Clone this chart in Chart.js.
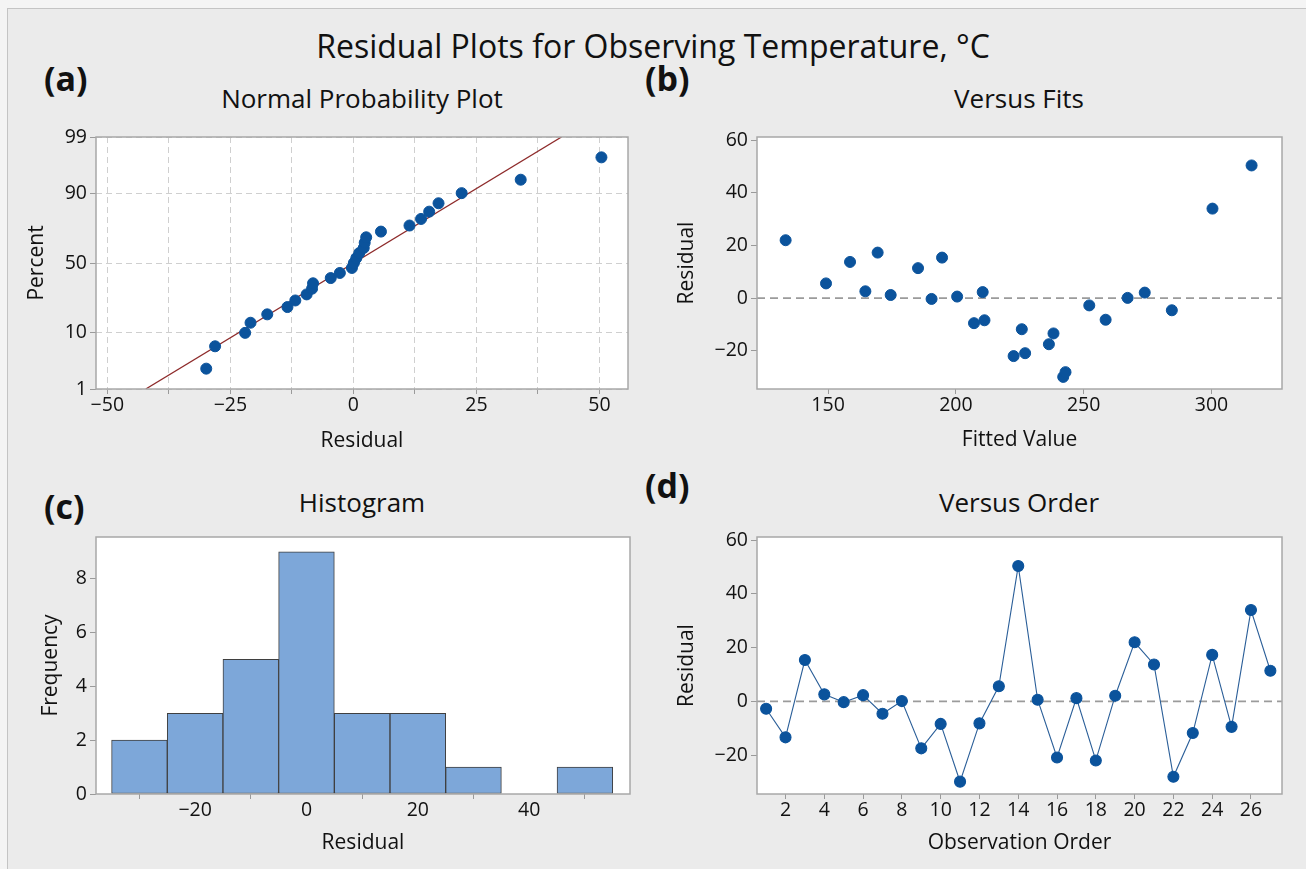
<!DOCTYPE html>
<html>
<head>
<meta charset="utf-8">
<title>Residual Plots for Observing Temperature, °C</title>
<script src="https://cdn.jsdelivr.net/npm/chart.js@4.4.1/dist/chart.umd.min.js"></script>
<style>
  body { margin: 0; background: #f4f4f4; width: 1306px; height: 869px; overflow: hidden;
         font-family: "Open Sans", sans-serif; color: #111111; position: relative; }
  .frame { position: absolute; left: 7px; top: 8px; width: 1320px; height: 880px;
           background: #ebebeb; border: 1px solid #c4c4c4; }
  .t { position: absolute; transform: translate(-50%, -50%); white-space: nowrap; }
  .lbl { position: absolute; transform: translateY(-50%); font-weight: bold; font-size: 34px; }
  canvas { position: absolute; }
</style>
</head>
<body>
<div class="frame"></div>
<div class="t" style="left:653px; top:45px; font-size:32px;">Residual Plots for Observing Temperature, °C</div>
<div class="lbl" style="left:44px; top:78px;">(a)</div>
<div class="lbl" style="left:645px; top:78px;">(b)</div>
<div class="lbl" style="left:44px; top:506px;">(c)</div>
<div class="lbl" style="left:645px; top:485px;">(d)</div>
<div class="t" style="left:362px; top:98px; font-size:26px;">Normal Probability Plot</div>
<div class="t" style="left:1019px; top:98px; font-size:26px;">Versus Fits</div>
<div class="t" style="left:362px; top:502px; font-size:26px;">Histogram</div>
<div class="t" style="left:1019px; top:502px; font-size:26px;">Versus Order</div>

<canvas id="npp" style="left:0; top:80px;" width="640" height="380"></canvas>
<canvas id="fits" style="left:640px; top:80px;" width="666" height="380"></canvas>
<canvas id="hist" style="left:0; top:460px;" width="640" height="409"></canvas>
<canvas id="order" style="left:640px; top:460px;" width="666" height="409"></canvas>

<script>
// residuals in observation order, and the fitted value of each observation
const residuals = [-2.75, -13.4, 15.4, 2.6, -0.3, 2.3, -4.6, 0.1, -17.5, -8.4, -29.9, -8.2, 5.6, 50.4,
  0.6, -20.9, 1.2, -22.0, 2.1, 22.0, 13.75, -28.1, -11.8, 17.3, -9.5, 34.0, 11.4];
const fitted = [252.2, 238.2, 194.6, 164.6, 190.5, 210.5, 284.5, 267.2, 236.4, 211.2, 242.0, 258.6, 149.2, 315.7,
  200.5, 227.1, 174.5, 222.6, 273.9, 133.4, 158.6, 242.9, 225.8, 169.4, 207.1, 300.4, 185.2];

// histogram bins (midpoints) and frequencies
const binMids = [-30, -20, -10, 0, 10, 20, 30, 40, 50];
const histCounts = [2, 3, 5, 9, 3, 3, 1, 0, 1];

// tick labels
const pctTicks = [1, 10, 50, 90, 99];
const residTicks = [-50, -25, 0, 25, 50];
const fitTicks = [150, 200, 250, 300];
const histTicks = [-20, 0, 20, 40];
const freqTicks = [0, 2, 4, 6, 8];
const residYTicks = [-20, 0, 20, 40, 60];
const orderTicks = [2, 4, 6, 8, 10, 12, 14, 16, 18, 20, 22, 24, 26];

const dotBlue = "#0b539c";
const textCol = "#111111";
const tickFont = { family: '"Open Sans", sans-serif', size: 19.5 };
const axisFont = { family: '"Open Sans", sans-serif', size: 21 };

Chart.defaults.font.family = '"Open Sans", sans-serif';
Chart.defaults.color = textCol;

// inverse of the standard normal cdf (Acklam)
function normInv(p) {
  const a = [-3.969683028665376e+01, 2.209460984245205e+02, -2.759285104469687e+02, 1.383577518672690e+02, -3.066479806614716e+01, 2.506628277459239e+00];
  const b = [-5.447609879822406e+01, 1.615858368580409e+02, -1.556989798598866e+02, 6.680131188771972e+01, -1.328068155288572e+01];
  const c = [-7.784894002430293e-03, -3.223964580411365e-01, -2.400758277161838e+00, -2.549732539343734e+00, 4.374664141464968e+00, 2.938163982698783e+00];
  const d = [7.784695709041462e-03, 3.224671290700398e-01, 2.445134137142996e+00, 3.754408661907416e+00];
  let q, r;
  if (p < 0.02425) {
    q = Math.sqrt(-2 * Math.log(p));
    return (((((c[0]*q+c[1])*q+c[2])*q+c[3])*q+c[4])*q+c[5]) / ((((d[0]*q+d[1])*q+d[2])*q+d[3])*q+1);
  }
  if (p > 1 - 0.02425) {
    q = Math.sqrt(-2 * Math.log(1 - p));
    return -(((((c[0]*q+c[1])*q+c[2])*q+c[3])*q+c[4])*q+c[5]) / ((((d[0]*q+d[1])*q+d[2])*q+d[3])*q+1);
  }
  q = p - 0.5; r = q * q;
  return (((((a[0]*r+a[1])*r+a[2])*r+a[3])*r+a[4])*r+a[5])*q / (((((b[0]*r+b[1])*r+b[2])*r+b[3])*r+b[4])*r+1);
}

const minus = v => String(v).replace("-", "\u2212");

// probability plot: sorted residuals against median ranks
const sorted = residuals.slice().sort((p, q) => p - q);
const n = sorted.length;
const nppPoints = sorted.map((r, i) => ({ x: r, y: normInv((i + 1 - 0.3) / (n + 0.4)) }));
const mean = residuals.reduce((s, v) => s + v, 0) / n;
const sd = Math.sqrt(residuals.reduce((s, v) => s + (v - mean) ** 2, 0) / (n - 1));
const zLo = normInv(pctTicks[0] / 100), zHi = normInv(pctTicks[pctTicks.length - 1] / 100);
const fitLine = [{ x: mean + sd * zLo, y: zLo }, { x: mean + sd * zHi, y: zHi }];

// fixed axis box sizes so every plot area lands where it should
function fixBox(size) {
  return s => {
    if (s.isHorizontal()) s.height = size; else s.width = size;
    s.paddingLeft = s.paddingRight = s.paddingTop = s.paddingBottom = 0;
  };
}
function setTicks(list) {
  return s => { s.ticks = list.map(v => ({ value: v })); };
}

// white plot area with grey frame
const plotFrame = {
  id: "plotFrame",
  beforeDraw(chart) {
    const { ctx, chartArea: a } = chart;
    ctx.save();
    ctx.fillStyle = "#ffffff";
    ctx.fillRect(a.left, a.top, a.width, a.height);
    ctx.restore();
  },
  afterDraw(chart) {
    const { ctx, chartArea: a } = chart;
    ctx.save();
    ctx.strokeStyle = "#a8a8a8";
    ctx.lineWidth = 1.5;
    ctx.strokeRect(a.left, a.top, a.width, a.height);
    ctx.restore();
  }
};

const base = {
  responsive: false,
  animation: false,
  devicePixelRatio: 1,
  plugins: { legend: { display: false }, tooltip: { enabled: false } }
};

function xAxis(opts) {
  return Object.assign({
    type: "linear",
    afterFit: fixBox(opts.h),
    ticks: { font: tickFont, color: textCol, padding: 0, maxRotation: 0, autoSkip: false, callback: v => minus(v) },
    grid: { drawOnChartArea: false, tickLength: 5, tickColor: "#9a9a9a", tickBorderDash: [] },
    border: { display: false },
    title: { display: true, text: opts.title, font: axisFont, color: textCol, padding: { bottom: opts.tb } }
  }, opts.extra);
}
function yAxis(opts) {
  return Object.assign({
    type: "linear",
    afterFit: fixBox(opts.w),
    ticks: { font: tickFont, color: textCol, padding: 3, autoSkip: false, callback: v => minus(v) },
    grid: { drawOnChartArea: false, tickLength: 6, tickColor: "#9a9a9a", tickBorderDash: [] },
    border: { display: false },
    title: { display: true, text: opts.title, font: axisFont, color: textCol, padding: { top: opts.tp } }
  }, opts.extra);
}

// (a) normal probability plot
const nppX = xAxis({ h: 71, title: "Residual", tb: 6, extra: { min: -52.3, max: 55.8 } });
nppX.afterBuildTicks = s => {
  const list = [];
  for (let i = 0; i < residTicks.length; i++) {
    list.push({ value: residTicks[i] });
    if (i < residTicks.length - 1) list.push({ value: (residTicks[i] + residTicks[i + 1]) / 2 });
  }
  s.ticks = list;
};
nppX.ticks.callback = v => residTicks.includes(v) ? minus(v) : "";
nppX.grid = { drawOnChartArea: true, color: "#cfcfcf", lineWidth: 1, tickLength: 5, tickColor: "#9a9a9a", tickBorderDash: [] };
nppX.border = { display: false, dash: [6, 4] };

const nppY = yAxis({ w: 96, title: "Percent", tp: 24, extra: { min: zLo, max: zHi } });
nppY.afterBuildTicks = s => { s.ticks = pctTicks.map(p => ({ value: normInv(p / 100) })); };
nppY.ticks.callback = (v, i) => pctTicks[i];
nppY.grid = { drawOnChartArea: true, color: "#cfcfcf", lineWidth: 1, tickLength: 6, tickColor: "#9a9a9a", tickBorderDash: [] };
nppY.border = { display: false, dash: [6, 4] };

new Chart(document.getElementById("npp"), {
  type: "scatter",
  data: {
    datasets: [
      { type: "line", data: fitLine, borderColor: "#8e2b2b", borderWidth: 1.3, pointRadius: 0, order: 2 },
      { data: nppPoints, backgroundColor: dotBlue, borderColor: dotBlue, pointRadius: 5.5, order: 1 }
    ]
  },
  options: Object.assign({}, base, {
    layout: { padding: { top: 57, right: 12 } },
    scales: { x: nppX, y: nppY }
  }),
  plugins: [plotFrame]
});

// (b) versus fits
const fitMin = 122.2, fitMax = 327.6;
new Chart(document.getElementById("fits"), {
  type: "scatter",
  data: {
    datasets: [
      { type: "line", data: [{ x: fitMin, y: 0 }, { x: fitMax, y: 0 }], borderColor: "#9b9b9b", borderWidth: 1.6,
        borderDash: [8, 5], pointRadius: 0, order: 2 },
      { data: fitted.map((f, i) => ({ x: f, y: residuals[i] })), backgroundColor: dotBlue, borderColor: dotBlue,
        pointRadius: 5.5, order: 1 }
    ]
  },
  options: Object.assign({}, base, {
    layout: { padding: { top: 57, right: 24 } },
    scales: {
      x: xAxis({ h: 71, title: "Fitted Value", tb: 7, extra: { min: fitMin, max: fitMax, afterBuildTicks: setTicks(fitTicks) } }),
      y: yAxis({ w: 117, title: "Residual", tp: 34, extra: { min: -34.5, max: 61.2, afterBuildTicks: setTicks(residYTicks) } })
    }
  }),
  plugins: [plotFrame]
});

// (c) histogram
new Chart(document.getElementById("hist"), {
  type: "bar",
  data: {
    datasets: [{
      data: binMids.map((m, i) => ({ x: m, y: histCounts[i] })),
      backgroundColor: "#7da7d9",
      borderColor: "#3f3f3f",
      borderWidth: 1,
      borderSkipped: false,
      barPercentage: 1,
      categoryPercentage: 1
    }]
  },
  options: Object.assign({}, base, {
    layout: { padding: { top: 77, right: 10 } },
    scales: {
      x: xAxis({ h: 75, title: "Residual", tb: 13, extra: { min: -37.8, max: 58.1, offset: false, afterBuildTicks: setTicks(histTicks) } }),
      y: yAxis({ w: 96, title: "Frequency", tp: 38, extra: { min: 0, max: 9.55, afterBuildTicks: setTicks(freqTicks) } })
    }
  }),
  plugins: [plotFrame]
});

// (d) versus order
const ordMin = 0.53, ordMax = 27.6;
new Chart(document.getElementById("order"), {
  type: "line",
  data: {
    datasets: [
      { data: [{ x: ordMin, y: 0 }, { x: ordMax, y: 0 }], borderColor: "#9b9b9b", borderWidth: 1.6,
        borderDash: [8, 5], pointRadius: 0, order: 2 },
      { data: residuals.map((r, i) => ({ x: i + 1, y: r })), borderColor: "#2a5e98", borderWidth: 1.1,
        backgroundColor: dotBlue, pointBackgroundColor: dotBlue, pointBorderColor: dotBlue, pointRadius: 5.5,
        tension: 0, order: 1 }
    ]
  },
  options: Object.assign({}, base, {
    layout: { padding: { top: 77, right: 24 } },
    scales: {
      x: xAxis({ h: 75, title: "Observation Order", tb: 13, extra: { min: ordMin, max: ordMax, afterBuildTicks: setTicks(orderTicks) } }),
      y: yAxis({ w: 117, title: "Residual", tp: 34, extra: { min: -34.5, max: 61.2, afterBuildTicks: setTicks(residYTicks) } })
    }
  }),
  plugins: [plotFrame]
});
</script>
</body>
</html>
